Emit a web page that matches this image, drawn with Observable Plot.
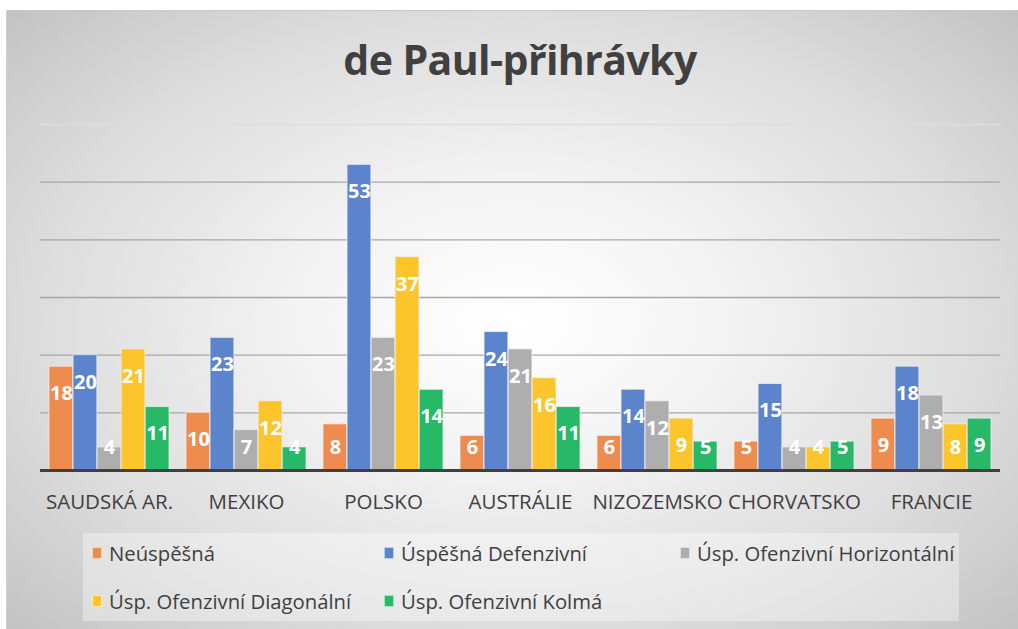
<!DOCTYPE html>
<html>
<head>
<meta charset="utf-8">
<script src="https://cdn.jsdelivr.net/npm/d3@7"></script>
<script src="https://cdn.jsdelivr.net/npm/@observablehq/plot@0.6"></script>
<style>
  html, body { margin: 0; padding: 0; background: #fff; width: 1018px; height: 629px; overflow: hidden; }
  #frame { position: absolute; left: 6px; top: 10px; width: 1012px; height: 619px;
    background: radial-gradient(ellipse 68% 72% at 50% 50%, #ffffff 0%, #f4f4f4 30%, #dcdcdc 70%, #c4c4c4 100%);
    border-top: 1px solid #c8c8c8; border-left: 1px solid #d0d0d0; }
  #title { position: absolute; left: 0; width: 1040px; top: 31px; text-align: center;
    font-family: "Open Sans", sans-serif; font-weight: 700; font-size: 41px; color: #404040; letter-spacing: -0.6px; }
  #chart { position: absolute; left: 0; top: 100px; }
  #legend { position: absolute; left: 83px; top: 533px; width: 876px; height: 88px;
    background: rgba(255,255,255,0.35); font-family: "Open Sans", sans-serif; font-size: 20.3px; color: #404040; }
  .item { position: absolute; display: flex; align-items: center; white-space: nowrap; }
  .sw { width: 10px; height: 12px; margin-right: 7px; border: 1px solid rgba(255,255,255,0.6); box-sizing: border-box; }
</style>
</head>
<body>
<div id="frame"></div>
<div id="title">de Paul-přihrávky</div>
<div id="chart"></div>
<div id="legend"></div>
<script>
const categories = ["SAUDSKÁ AR.", "MEXIKO", "POLSKO", "AUSTRÁLIE", "NIZOZEMSKO", "CHORVATSKO", "FRANCIE"];
const seriesNames = ["Neúspěšná", "Úspěšná Defenzivní", "Úsp. Ofenzivní Horizontální", "Úsp. Ofenzivní Diagonální", "Úsp. Ofenzivní Kolmá"];
const neuspesna = [18, 10, 8, 6, 6, 5, 9];
const defenzivni = [20, 23, 53, 24, 14, 15, 18];
const horizontalni = [4, 7, 23, 21, 12, 4, 13];
const diagonalni = [21, 12, 37, 16, 9, 4, 8];
const kolma = [11, 4, 14, 11, 5, 5, 9];
const colors = ["#EE8B4E", "#5B84CD", "#AEAEAE", "#FCC52B", "#27B968"];
const gridValues = [10, 20, 30, 40, 50];
const topGrid = [60];

const seriesValues = [neuspesna, defenzivni, horizontalni, diagonalni, kolma];

const width = 1018, height = 420;
const marginLeft = 40, marginRight = 18, marginTop = 24, marginBottom = 50;
const pInner = 0.124, pOuter = 0.058;
const step = (width - marginLeft - marginRight) / (categories.length - pInner + 2 * pOuter);
const bw = step * (1 - pInner);
const barW = bw / seriesNames.length;

const marks = [
  Plot.ruleY(topGrid, {stroke: "#dedede", strokeWidth: 1.3}),
  Plot.ruleY(gridValues, {stroke: "#9e9e9e", strokeWidth: 1.3, strokeOpacity: 0.9})
];
seriesValues.forEach((vals, i) => {
  const data = categories.map((c, j) => ({category: c, value: vals[j], series: seriesNames[i]}));
  marks.push(Plot.barY(data, {
    x: "category", y: "value", fill: colors[i],
    stroke: "#f2f2f2", strokeWidth: 1, strokeOpacity: 0.7,
    insetLeft: i * barW, insetRight: (seriesNames.length - 1 - i) * barW
  }));
  marks.push(Plot.text(data, {
    x: "category", y: d => Math.max(d.value, 8.7), text: d => String(d.value),
    dx: (i - (seriesNames.length - 1) / 2) * barW, dy: 27,
    fill: "white", fontWeight: "bold", fontSize: 20, fontFamily: "Open Sans, sans-serif"
  }));
});
marks.push(Plot.ruleY([0], {stroke: "#404040", strokeWidth: 3}));

const chart = Plot.plot({
  width, height, marginLeft, marginRight, marginTop, marginBottom,
  style: {background: "transparent", fontFamily: "Open Sans, sans-serif", overflow: "visible"},
  x: {type: "band", domain: categories, paddingInner: pInner, paddingOuter: pOuter, label: null},
  y: {domain: [0, 60], axis: null},
  marks: [
    ...marks,
    Plot.axisX({tickSize: 0, tickPadding: 24, fontSize: 20.5, fill: "#404040", label: null})
  ]
});
document.getElementById("chart").appendChild(chart);

const legend = document.getElementById("legend");
const positions = [[9, 20], [301, 20], [597, 20], [9, 68], [301, 68]];
seriesNames.forEach((name, i) => {
  const it = document.createElement("div");
  it.className = "item";
  it.style.left = positions[i][0] + "px";
  it.style.top = (positions[i][1] - 13) + "px";
  it.style.height = "26px";
  const sw = document.createElement("span");
  sw.className = "sw";
  sw.style.background = colors[i];
  const tx = document.createElement("span");
  tx.textContent = name;
  it.appendChild(sw); it.appendChild(tx);
  legend.appendChild(it);
});
</script>
</body>
</html>
